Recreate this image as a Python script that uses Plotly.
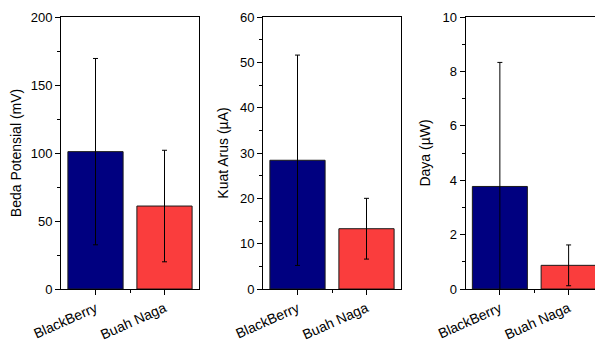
import plotly.graph_objects as go

categories = ["BlackBerry", "Buah Naga"]
beda_potensial = [101.0, 61.0]
beda_potensial_err = [68.5, 41.0]
kuat_arus = [28.4, 13.3]
kuat_arus_err = [23.2, 6.7]
daya = [3.77, 0.87]
daya_err = [4.56, 0.75]

titles = ["Beda Potensial (mV)", "Kuat Arus (\u00b5A)", "Daya (\u00b5W)"]
y_ranges = [[0, 200], [0, 60], [0, 10]]
y_dticks = [50, 10, 2]
series = [(beda_potensial, beda_potensial_err), (kuat_arus, kuat_arus_err), (daya, daya_err)]
bar_colors = ["#000080", "#fa3d3d"]

# page body adds an 8px offset; size figure to fit the remaining viewport
OFF = 8
W, H = 603 - OFF, 341 - OFF
domains_px = [(61 - OFF, 199 - OFF), (263 - OFF, 401 - OFF), (465.5 - OFF, 603 - OFF)]

fig = go.Figure()
xpos = list(range(len(categories)))
for i, (vals, errs) in enumerate(series):
    xa = "x" if i == 0 else f"x{i+1}"
    ya = "y" if i == 0 else f"y{i+1}"
    fig.add_trace(go.Bar(
        x=xpos, y=vals, width=0.8,
        marker=dict(color=bar_colors, line=dict(color="#1a1a1a", width=1)),
        error_y=dict(type="data", array=errs, visible=True, color="#000000",
                     thickness=1, width=2.5),
        xaxis=xa, yaxis=ya, showlegend=False,
    ))

font = dict(family="Liberation Sans, Arial, sans-serif", size=13, color="#000000")
layout = dict(
    width=W, height=H,
    margin=dict(l=0, r=0, t=17 - OFF, b=52, autoexpand=False),
    paper_bgcolor="white", plot_bgcolor="white",
    font=font, showlegend=False, bargap=0.2,
)
for i in range(3):
    xk = "xaxis" if i == 0 else f"xaxis{i+1}"
    yk = "yaxis" if i == 0 else f"yaxis{i+1}"
    a, b = domains_px[i]
    layout[xk] = dict(
        domain=[a / W, min(b / W, 1.0)],
        anchor="y" if i == 0 else f"y{i+1}",
        range=[-0.5, 1.5], tickmode="array", tickvals=xpos, ticktext=categories,
        tickangle=-24, ticks="outside", ticklen=5, tickwidth=1, tickcolor="#000",
        showline=True, linecolor="#000", linewidth=1, mirror=True,
        showgrid=False, zeroline=False, automargin=False,
        tickfont=dict(size=14),
        minor=dict(tickmode="array", tickvals=[0.5], ticks="outside", ticklen=3,
                   tickcolor="#000", showgrid=False),
    )
    layout[yk] = dict(
        domain=[0, 1],
        anchor="x" if i == 0 else f"x{i+1}",
        range=y_ranges[i], dtick=y_dticks[i], tick0=0,
        ticks="outside", ticklen=5, tickwidth=1, tickcolor="#000",
        showline=True, linecolor="#000", linewidth=1, mirror=True,
        showgrid=False, zeroline=False, automargin=False,
        tickfont=dict(size=13),
        title=dict(text=titles[i], font=dict(size=14), standoff=8),
        minor=dict(dtick=y_dticks[i] / 2, ticks="outside", ticklen=3,
                   tickcolor="#000", showgrid=False),
    )
fig.update_layout(**layout)
fig.write_html("out.html")
